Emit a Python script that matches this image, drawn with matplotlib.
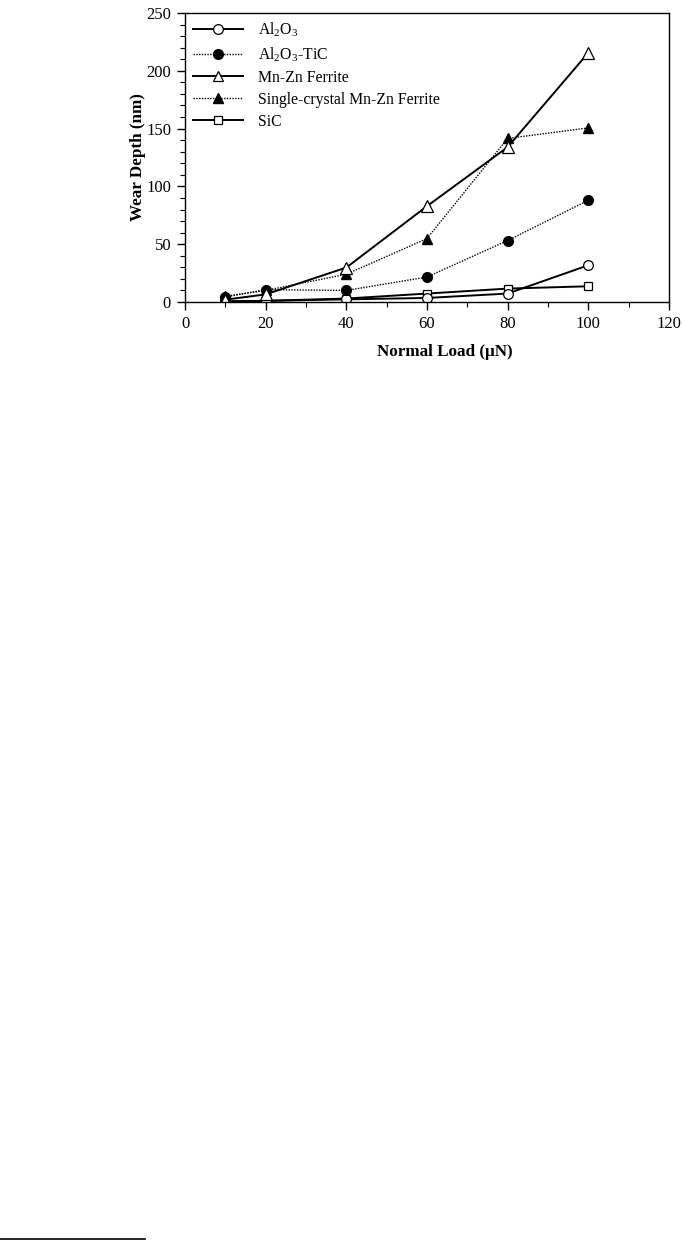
import matplotlib
matplotlib.use("Agg")
import matplotlib.pyplot as plt
from matplotlib.ticker import MultipleLocator
from matplotlib.lines import Line2D

plt.rcParams['font.family'] = ['Liberation Serif', 'DejaVu Serif']
plt.rcParams['mathtext.fontset'] = 'custom'
plt.rcParams['mathtext.rm'] = 'Liberation Serif'

loads = [10, 20, 40, 60, 80, 100]
al2o3 = [0.5, 1.0, 2.3, 3.5, 7.3, 31.8]
al2o3_tic = [4.3, 10.7, 10.0, 21.6, 53.2, 88.0]
mnzn = [2.0, 6.6, 29.8, 82.9, 134.0, 215.6]
single_mnzn = [5.0, 10.0, 24.0, 54.9, 141.5, 150.6]
sic = [0.5, 1.0, 3.0, 7.3, 11.6, 13.6]

labels = [r'$\mathregular{Al_2O_3}$', r'$\mathregular{Al_2O_3}$-TiC', 'Mn-Zn Ferrite',
          'Single-crystal Mn-Zn Ferrite', 'SiC']
x_ticks = [0, 20, 40, 60, 80, 100, 120]
y_ticks = [0, 50, 100, 150, 200, 250]

W, H = 683, 1240
fig = plt.figure(figsize=(W / 100, H / 100), dpi=100)
ax = fig.add_axes([185 / W, 1 - 302 / H, 484 / W, 289 / H])

solid = dict(color='black', linestyle='-', linewidth=1.4)
dotted = dict(color='black', linestyle=(0, (1, 1)), linewidth=1.0)
ms = 7

ax.plot(loads, sic, marker='s', markerfacecolor='white', markeredgecolor='black',
        markersize=6, markeredgewidth=0.9, label=labels[4], **solid)
ax.plot(loads, al2o3, marker='o', markerfacecolor='white', markeredgecolor='black',
        markersize=ms, markeredgewidth=0.9, label=labels[0], **solid)
ax.plot(loads, al2o3_tic, marker='o', markerfacecolor='black', markeredgecolor='black',
        markersize=ms, label=labels[1], **dotted)
ax.plot(loads, single_mnzn, marker='^', markerfacecolor='black', markeredgecolor='black',
        markersize=ms, label=labels[3], **dotted)
ax.plot(loads, mnzn, marker='^', markerfacecolor='white', markeredgecolor='black',
        markersize=ms + 1, markeredgewidth=0.9, label=labels[2], **solid)

ax.set_xlim(0, 120)
ax.set_ylim(0, 250)
ax.set_xticks(x_ticks)
ax.set_yticks(y_ticks)
ax.xaxis.set_minor_locator(MultipleLocator(10))
ax.yaxis.set_minor_locator(MultipleLocator(10))
ax.tick_params(which='major', direction='out', length=6, width=1.0, labelsize=12, pad=4)
ax.tick_params(which='minor', direction='out', length=3.5, width=0.8)
ax.tick_params(top=False, right=False, which='both')
for sp in ax.spines.values():
    sp.set_linewidth(1.0)

fig.text(445 / W, 1 - 352 / H, 'Normal Load (\u03bcN)', fontsize=12.3, fontweight='bold',
         ha='center', va='center')
fig.text(138 / W, 1 - 157 / H, 'Wear Depth (nm)', fontsize=12.3, fontweight='bold',
         rotation=90, ha='center', va='center')

handles = [
    Line2D([], [], marker='o', markerfacecolor='white', markeredgecolor='black', markersize=ms,
           markeredgewidth=0.9, **solid),
    Line2D([], [], marker='o', markerfacecolor='black', markeredgecolor='black', markersize=ms,
           **dotted),
    Line2D([], [], marker='^', markerfacecolor='white', markeredgecolor='black', markersize=ms,
           markeredgewidth=0.9, **solid),
    Line2D([], [], marker='^', markerfacecolor='black', markeredgecolor='black', markersize=ms,
           **dotted),
    Line2D([], [], marker='s', markerfacecolor='white', markeredgecolor='black', markersize=6,
           markeredgewidth=0.9, **solid),
]
ax.legend(handles, labels, loc='upper left', bbox_to_anchor=(-0.003, 1.005), frameon=False,
          fontsize=11.3, handlelength=3.2, handletextpad=0.95, labelspacing=0.38,
          borderaxespad=0.3, borderpad=0.3)

fig.add_artist(Line2D([0, 145 / W], [1 - 1238.5 / H, 1 - 1238.5 / H], color='black',
                      linewidth=1.2, transform=fig.transFigure))

fig.savefig('out.png', dpi=100)
